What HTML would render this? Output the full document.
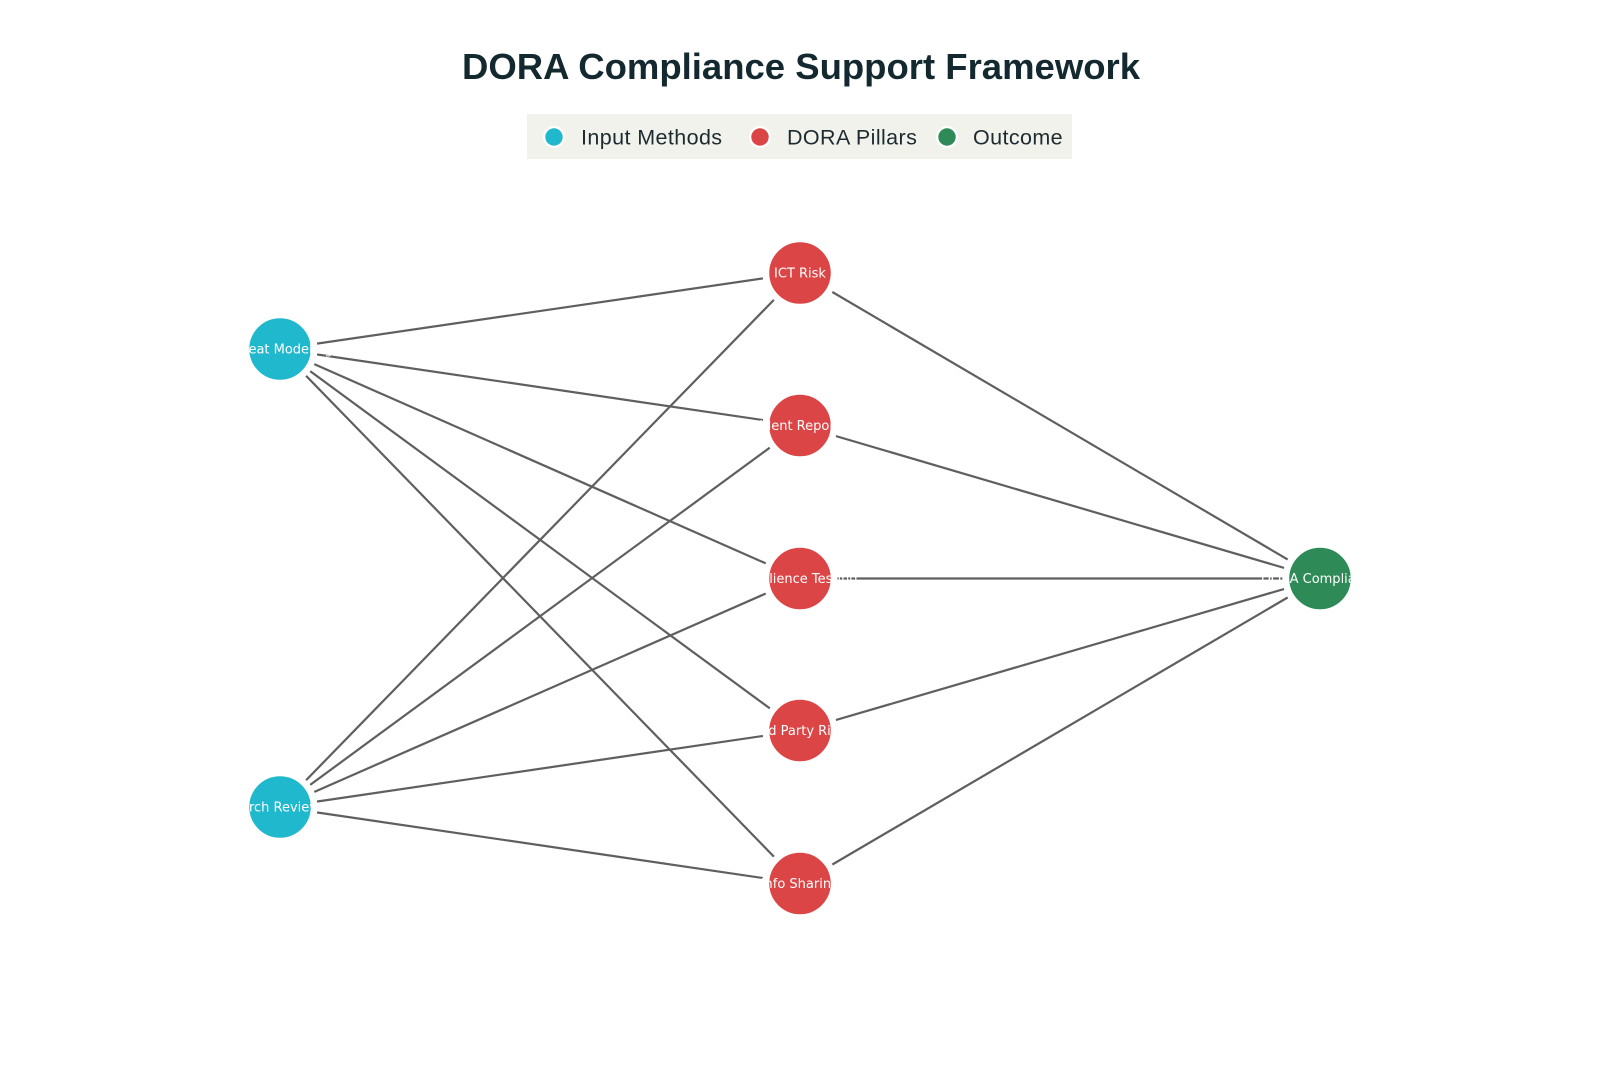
<!DOCTYPE html>
<html><head><meta charset="utf-8"><style>
html,body{margin:0;padding:0;background:#fff;}
svg{display:block;}
</style></head><body>
<svg width="1600" height="1067" viewBox="0 0 1600 1067" xmlns="http://www.w3.org/2000/svg">
<rect width="1600" height="1067" fill="#fff"/>
<text x="801" y="79" text-anchor="middle" font-family="Liberation Sans, sans-serif" font-weight="bold" font-size="36.5" fill="#13292f">DORA Compliance Support Framework</text>
<rect x="527" y="114" width="545" height="45" fill="#f2f2ed"/>
<g font-family="Liberation Sans, sans-serif" font-size="21.5" fill="#1d2b30">
<circle cx="554" cy="137" r="11" fill="#fff"/><circle cx="554" cy="137" r="8.7" fill="#1fb8cd"/>
<text x="581" y="144.5" letter-spacing="0.4">Input Methods</text>
<circle cx="760" cy="137" r="11" fill="#fff"/><circle cx="760" cy="137" r="8.7" fill="#db4545"/>
<text x="787" y="144.5" letter-spacing="0.4">DORA Pillars</text>
<circle cx="947" cy="137" r="11" fill="#fff"/><circle cx="947" cy="137" r="8.7" fill="#2e8b57"/>
<text x="973" y="144.5" letter-spacing="0.4">Outcome</text>
</g>
<g stroke="#5f5f5f" stroke-width="2.2">
<line x1="280" y1="349" x2="800" y2="273"/>
<line x1="280" y1="349" x2="800" y2="425.5"/>
<line x1="280" y1="349" x2="800" y2="578.5"/>
<line x1="280" y1="349" x2="800" y2="730.5"/>
<line x1="280" y1="349" x2="800" y2="883.5"/>
<line x1="280" y1="807" x2="800" y2="273"/>
<line x1="280" y1="807" x2="800" y2="425.5"/>
<line x1="280" y1="807" x2="800" y2="578.5"/>
<line x1="280" y1="807" x2="800" y2="730.5"/>
<line x1="280" y1="807" x2="800" y2="883.5"/>
<line x1="800" y1="273" x2="1320" y2="578.5"/>
<line x1="800" y1="425.5" x2="1320" y2="578.5"/>
<line x1="800" y1="578.5" x2="1320" y2="578.5"/>
<line x1="800" y1="730.5" x2="1320" y2="578.5"/>
<line x1="800" y1="883.5" x2="1320" y2="578.5"/>
</g>
<g fill="#fff">
<circle cx="280" cy="349" r="37.5"/><circle cx="280" cy="807" r="37.5"/>
<circle cx="800" cy="273" r="37.5"/><circle cx="800" cy="425.5" r="37.5"/><circle cx="800" cy="578.5" r="37.5"/><circle cx="800" cy="730.5" r="37.5"/><circle cx="800" cy="883.5" r="37.5"/>
<circle cx="1320" cy="578.5" r="37.5"/>
</g>
<g stroke="#fff" stroke-width="1.5">
<circle cx="280" cy="349" r="31.5" fill="#1fb8cd"/><circle cx="280" cy="807" r="31.5" fill="#1fb8cd"/>
<circle cx="800" cy="273" r="31.5" fill="#db4545"/><circle cx="800" cy="425.5" r="31.5" fill="#db4545"/><circle cx="800" cy="578.5" r="31.5" fill="#db4545"/><circle cx="800" cy="730.5" r="31.5" fill="#db4545"/><circle cx="800" cy="883.5" r="31.5" fill="#db4545"/>
<circle cx="1320" cy="578.5" r="31.5" fill="#2e8b57"/>
</g>
<g font-family="DejaVu Sans, sans-serif" font-size="13" fill="#fff" text-anchor="middle">
<text x="280" y="353.5">Threat Modeling</text>
<text x="280" y="811.5">Arch Review</text>
<text x="800" y="277.5">ICT Risk</text>
<text x="800" y="430">Incident Reporting</text>
<text x="800" y="583">Resilience Testing</text>
<text x="800" y="735">3rd Party Risk</text>
<text x="800" y="888">Info Sharing</text>
<text x="1320" y="583">DORA Compliance</text>
</g>
</svg>
</body></html>
